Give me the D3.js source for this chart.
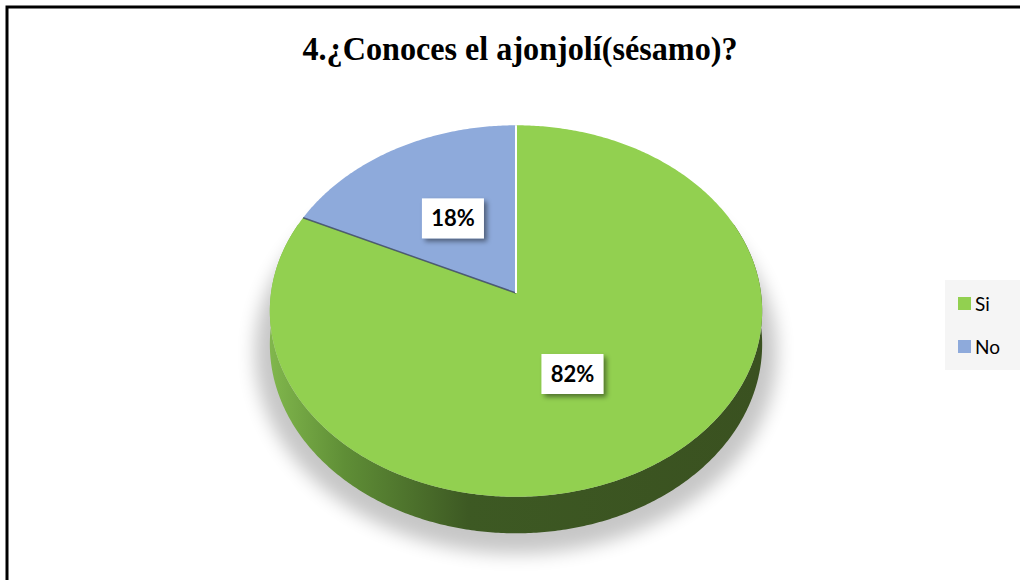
<!DOCTYPE html>
<html>
<head>
<meta charset="utf-8">
<script src="https://cdn.jsdelivr.net/npm/d3@7"></script>
<style>
  body { margin: 0; background: #fff; }
</style>
</head>
<body>
<div id="chart"></div>
<script>
// Data
const categories = ["Si", "No"];
const values = [82, 18];
const colors = ["#92d050", "#8eaadb"];
const title = "4.¿Conoces el ajonjolí(sésamo)?";

const W = 1020, H = 580;

const svg = d3.select("#chart")
    .append("svg")
    .attr("width", W)
    .attr("height", H);

const defs = svg.append("defs");

// side gradient of the 3D pie
const grad = defs.append("linearGradient")
    .attr("id", "sideGrad")
    .attr("gradientUnits", "userSpaceOnUse")
    .attr("x1", 271).attr("x2", 764).attr("y1", 0).attr("y2", 0);
[[0, "#80b64c"], [0.15, "#5f8e36"], [0.4, "#3d5923"], [1, "#3a5120"]].forEach(s => {
    grad.append("stop").attr("offset", s[0]).attr("stop-color", s[1]);
});

defs.append("filter").attr("id", "blur")
    .attr("x", "-20%").attr("y", "-20%").attr("width", "140%").attr("height", "140%")
    .append("feGaussianBlur").attr("stdDeviation", 9);

defs.append("filter").attr("id", "boxShadow")
    .attr("x", "-30%").attr("y", "-30%").attr("width", "160%").attr("height", "160%")
    .append("feDropShadow")
    .attr("dx", 3).attr("dy", 3).attr("stdDeviation", 2.5)
    .attr("flood-color", "#000").attr("flood-opacity", 0.45);

// frame
svg.append("rect")
    .attr("x", 7).attr("y", 7)
    .attr("width", 1100).attr("height", 700)
    .attr("fill", "none")
    .attr("stroke", "#000")
    .attr("stroke-width", 3);

// title
svg.append("text")
    .attr("x", 520)
    .attr("y", 60)
    .attr("text-anchor", "middle")
    .attr("font-family", "'Liberation Serif', 'Times New Roman', serif")
    .attr("font-weight", "bold")
    .attr("font-size", 33)
    .attr("textLength", 435)
    .attr("lengthAdjust", "spacingAndGlyphs")
    .text(title);

// perspective projection of the tilted disc
const cx = 516, cy = 293, rx = 245, ry = 184, k = 0.097, depth = 33;
function proj(a, f = 1, dz = 0) {
    const s = 1 / (1 + k * f * Math.cos(a));
    return [cx + rx * f * Math.sin(a) * s, cy - ry * f * Math.cos(a) * s + dz * s];
}
function arcPoints(a0, a1, f = 1, dz = 0) {
    const n = Math.max(2, Math.ceil(Math.abs(a1 - a0) / 0.01));
    return d3.range(n + 1).map(i => proj(a0 + (a1 - a0) * i / n, f, dz));
}
const line = d3.line();

const pie = d3.pie().sort(null).value(d => d)(values);

// shadow under pie
svg.append("path")
    .attr("d", line(arcPoints(0, 2 * Math.PI, 1.06, depth + 6)) + "Z")
    .attr("fill", "#000")
    .attr("opacity", 0.22)
    .attr("filter", "url(#blur)");

// side wall
const a0 = Math.PI / 2 - 0.4, a1 = 3 * Math.PI / 2 + 0.4;
const sidePts = arcPoints(a0, a1, 1, 0).concat(arcPoints(a1, a0, 1, depth));
svg.append("path")
    .attr("d", line(sidePts) + "Z")
    .attr("fill", "url(#sideGrad)");

// top face slices
svg.selectAll(".slice")
    .data(pie)
    .enter()
    .append("path")
    .attr("class", "slice")
    .attr("d", d => line([proj(0, 0)].concat(arcPoints(d.startAngle, d.endAngle))) + "Z")
    .attr("fill", (d, i) => colors[i]);

// slice edges
pie.forEach((d, i) => {
    if (i === 0) return;
    svg.append("path")
        .attr("d", line([proj(0, 0), proj(d.startAngle)]))
        .attr("stroke", "#3a4560").attr("stroke-width", 1.5).attr("opacity", 0.8);
    svg.append("path")
        .attr("d", line([proj(0, 0), proj(d.endAngle)]))
        .attr("stroke", "#fff").attr("stroke-width", 2);
});

// data labels
const labels = svg.selectAll(".lbl")
    .data(pie)
    .enter()
    .append("g")
    .attr("class", "lbl")
    .attr("transform", d => {
        const p = proj((d.startAngle + d.endAngle) / 2, 0.5);
        return `translate(${p[0] - (d.index === 0 ? 12 : 0)},${p[1]})`;
    });

labels.append("rect")
    .attr("x", -31).attr("y", -20)
    .attr("width", 62).attr("height", 40)
    .attr("fill", "#fff")
    .attr("filter", "url(#boxShadow)");

labels.append("text")
    .attr("text-anchor", "middle")
    .attr("dy", "0.36em")
    .attr("font-family", "Lato, 'Open Sans', sans-serif")
    .attr("font-weight", "bold")
    .attr("font-size", 22)
    .attr("fill", "#000")
    .text(d => `${d.data}%`);

// legend
svg.append("rect")
    .attr("x", 945).attr("y", 280)
    .attr("width", 75).attr("height", 90)
    .attr("fill", "#f5f5f5");

const legend = svg.selectAll(".legend")
    .data(categories)
    .enter()
    .append("g")
    .attr("class", "legend")
    .attr("transform", (d, i) => `translate(958, ${297 + i * 43})`);

legend.append("rect")
    .attr("width", 13).attr("height", 13)
    .attr("fill", (d, i) => colors[i]);

legend.append("text")
    .attr("x", 17)
    .attr("y", 7)
    .attr("dy", "0.35em")
    .attr("font-family", "Lato, 'Open Sans', sans-serif")
    .attr("font-size", 19)
    .attr("fill", "#000")
    .text(d => d);
</script>
</body>
</html>
